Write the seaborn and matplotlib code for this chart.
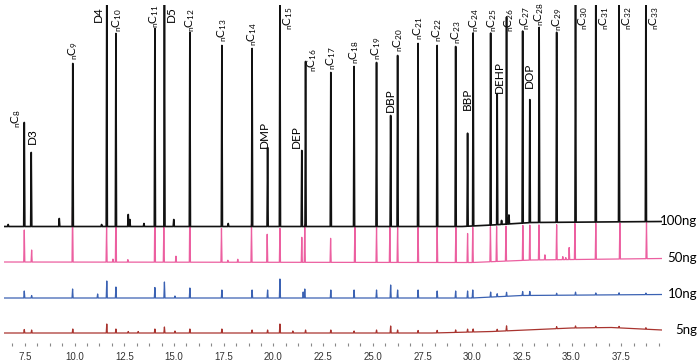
import numpy as np
import pandas as pd
import matplotlib
matplotlib.use("Agg")
import matplotlib.pyplot as plt
from matplotlib.ticker import MultipleLocator, AutoMinorLocator, FormatStrFormatter
import seaborn as sns

# ---- data (retention time in min, peak height in arbitrary units) ----
# labelled peaks of the 100 ng trace
black_names = ["nC8", "D3", "nC9", "D4", "nC10", "nC11", "D5", "nC12", "nC13", "nC14",
               "DMP", "nC15", "DEP", "nC16", "nC17", "nC18", "nC19", "DBP", "nC20", "nC21",
               "nC22", "nC23", "BBP", "nC24", "nC25", "DEHP", "nC26", "nC27", "DOP", "nC28",
               "nC29", "nC30", "nC31", "nC32", "nC33"]
black_times = [7.47, 7.82, 9.91, 11.62, 12.08, 14.04, 14.52, 15.80, 17.41, 18.93,
               19.71, 20.33, 21.43, 21.62, 22.89, 24.06, 25.19, 25.90, 26.25, 27.28,
               28.24, 29.17, 29.77, 30.05, 30.93, 31.26, 31.73, 32.54, 32.90, 33.37,
               34.25, 35.20, 36.22, 37.39, 38.74]
black_heights = [104, 74, 163, 240, 193, 198, 240, 194, 181, 178,
                 79, 240, 76, 165, 154, 160, 164, 111, 171, 183,
                 181, 180, 93, 193, 192, 131, 207, 192, 123, 195,
                 190, 240, 240, 240, 240]
# small unlabelled peaks of the 100 ng trace
black_minor_times = [6.66, 9.23, 11.36, 12.70, 12.78, 13.49, 14.99, 17.73, 31.48, 31.85]
black_minor_heights = [2, 8, 2, 12, 7, 3, 7, 3, 4, 9]

pink_times = [7.47, 7.84, 9.90, 11.61, 11.93, 12.08, 12.68, 14.04, 14.49, 15.10,
              15.80, 17.39, 17.71, 18.21, 18.90, 19.69, 20.33, 21.43, 21.58, 22.88,
              24.10, 25.19, 25.86, 26.25, 27.28, 28.24, 29.18, 29.77, 30.03, 30.92,
              31.23, 31.70, 32.55, 32.90, 33.36, 33.66, 34.25, 34.56, 34.71, 34.88,
              35.17, 36.22, 37.43, 38.77]
pink_heights = [32, 12, 55, 35, 3, 57, 2.5, 60, 35, 6,
                62, 34, 2, 3, 38, 28, 34, 25, 38, 24,
                35, 35, 35, 35, 35, 35, 35, 29, 35, 35,
                35, 35, 35, 35, 35, 5, 35, 3, 2, 12,
                36, 36, 36, 36]

blue_times = [7.47, 7.84, 9.90, 11.16, 11.62, 12.08, 14.04, 14.52, 15.05, 15.80,
              17.41, 18.93, 19.71, 20.33, 21.50, 21.58, 22.89, 24.06, 25.19, 25.90,
              26.25, 27.28, 28.24, 29.17, 29.77, 30.03, 30.93, 31.26, 31.73, 32.54,
              32.90, 34.25, 35.20, 36.22, 37.39, 38.74]
blue_heights = [7, 2.5, 9, 4, 17, 11, 10.5, 16, 2, 10,
                8, 8, 8, 19, 6, 9, 8, 8, 8, 13,
                8, 8, 7, 7, 7, 8, 5, 3, 4, 4,
                4, 2, 3, 2, 2, 1.5]

red_times = [7.47, 7.84, 9.91, 11.62, 12.08, 12.70, 13.20, 14.04, 14.52, 15.05,
             15.80, 17.41, 18.93, 19.71, 20.33, 20.98, 21.62, 22.89, 24.06, 25.19,
             25.90, 26.25, 27.28, 28.24, 29.17, 29.77, 30.05, 31.26, 31.73, 34.25,
             35.20, 36.22, 37.39, 38.74]
red_heights = [3.5, 3, 4, 9, 4, 1.5, 1.5, 4, 6, 2,
               4, 4, 3, 3, 9, 2, 3, 3, 2, 3,
               7, 3, 2.5, 2.5, 2.5, 3, 3, 2, 5, 2,
               2, 1.5, 1.5, 1.5]

# baseline level (drift) of each trace: (time, level)
black_base = [(6.45, 116.5), (29.5, 116.5), (31.0, 118), (33.0, 120.5), (39.55, 121.5)]
pink_base = [(6.45, 81), (30.0, 80.5), (33.0, 83), (39.55, 84.5)]
blue_base = [(6.45, 45), (30.0, 45), (32.5, 47.5), (39.55, 48.5)]
red_base = [(6.45, 10), (28.0, 10), (31.0, 11.5), (35.0, 15), (37.0, 15.5), (39.55, 13)]

amounts = ["100ng", "50ng", "10ng", "5ng"]
colors = {"100ng": "#111111", "50ng": "#ec5fa0", "10ng": "#3b62b3", "5ng": "#a9342f"}

# label nudges (dx px, gap px) for labels that sit off the default spot
nudges = {"nC8": (-8, -6), "D3": (1, 9), "DEP": (-5, 2), "DMP": (-3, 0), "BBP": (0, 23),
          "DOP": (0, 12), "DEHP": (2, 1), "nC16": (7, -10), "nC26": (3, -15), "nC28": (0, 1),
          "nC11": (-1, 1), "nC10": (1, 1), "nC12": (0, 1), "nC24": (1, 1), "nC25": (1, 1),
          "nC27": (2, 1), "nC29": (0, 1)}

HALF_W = 0.028  # half width of a peak at its foot (min)


def build_trace(times, heights, base):
    bt = [b[0] for b in base]
    by = [b[1] for b in base]
    pts = []
    for t, h in zip(times, heights):
        for tt, hh in ((t - HALF_W, 0.0), (t, h), (t + HALF_W, 0.0)):
            pts.append((tt, np.interp(tt, bt, by) + hh))
    for t, y in base:
        if all(abs(t - p) > HALF_W for p in times):
            pts.append((t, y))
    pts.sort()
    return pd.DataFrame(pts, columns=["time", "signal"])


sns.set_theme(style="white")
plt.rcParams["font.family"] = ["Lato", "DejaVu Sans"]
plt.rcParams["mathtext.default"] = "regular"

fig = plt.figure(figsize=(7, 3.64), dpi=100)
ax = fig.add_axes([4 / 700, 21 / 364, 658 / 700, 338 / 364])

traces = {
    "5ng": build_trace(red_times, red_heights, red_base),
    "10ng": build_trace(blue_times, blue_heights, blue_base),
    "50ng": build_trace(pink_times, pink_heights, pink_base),
    "100ng": build_trace(black_times + black_minor_times,
                         black_heights + black_minor_heights, black_base),
}
widths = {"100ng": 1.2, "50ng": 0.9, "10ng": 0.9, "5ng": 0.9}
for i, name in enumerate(["5ng", "10ng", "50ng", "100ng"]):
    df = traces[name]
    sns.lineplot(data=df, x="time", y="signal", ax=ax, sort=False, estimator=None,
                 color=colors[name], linewidth=widths[name], zorder=2 + i)

ax.set_xlim(6.45, 39.55)
ax.set_ylim(0, 338)
px = 72 / fig.dpi  # points per pixel

# peak labels on the 100 ng trace
for name, t, h in zip(black_names, black_times, black_heights):
    txt = name if not name.startswith("nC") else r"$_n$C$_{%s}$" % name[2:]
    if h >= 230:
        if name == "D4":
            ax.annotate(txt, xy=(t, 337), xytext=(-3 * px, 0), textcoords="offset points",
                        rotation=90, ha="right", va="top", fontsize=8.5, color="black")
        else:
            ax.annotate(txt, xy=(t, 337), xytext=(1 * px, 0), textcoords="offset points",
                        rotation=90, ha="left", va="top", fontsize=8.5, color="black")
        continue
    base = np.interp(t, [b[0] for b in black_base], [b[1] for b in black_base])
    dx, gap = nudges.get(name, (0, 3))
    ax.annotate(txt, xy=(t, base + h), xytext=(dx * px, gap * px), textcoords="offset points",
                rotation=90, ha="center", va="bottom", fontsize=8.5, color="black",
                annotation_clip=False)

# amount labels at the right end of each trace
for name, base in zip(amounts, [black_base, pink_base, blue_base, red_base]):
    ax.annotate(name, xy=(1.0, base[-1][1] + 0.5), xycoords=("axes fraction", "data"),
                xytext=(35 * px, 0), textcoords="offset points", ha="right", va="center",
                fontsize=9.5, color="black", annotation_clip=False)

ax.xaxis.set_major_locator(MultipleLocator(2.5))
ax.xaxis.set_minor_locator(AutoMinorLocator(4))
ax.xaxis.set_major_formatter(FormatStrFormatter("%.1f"))
ax.tick_params(axis="x", which="both", bottom=True, direction="out", length=2.5,
               width=0.8, color="#888888", labelsize=7, labelcolor="#333333", pad=4)
for lab in ax.get_xticklabels():
    lab.set_fontfamily(["Liberation Sans", "DejaVu Sans"])
ax.set_yticks([])
ax.set_xlabel("")
ax.set_ylabel("")
for s in ax.spines.values():
    s.set_visible(False)

fig.savefig("out.png", dpi=100)
